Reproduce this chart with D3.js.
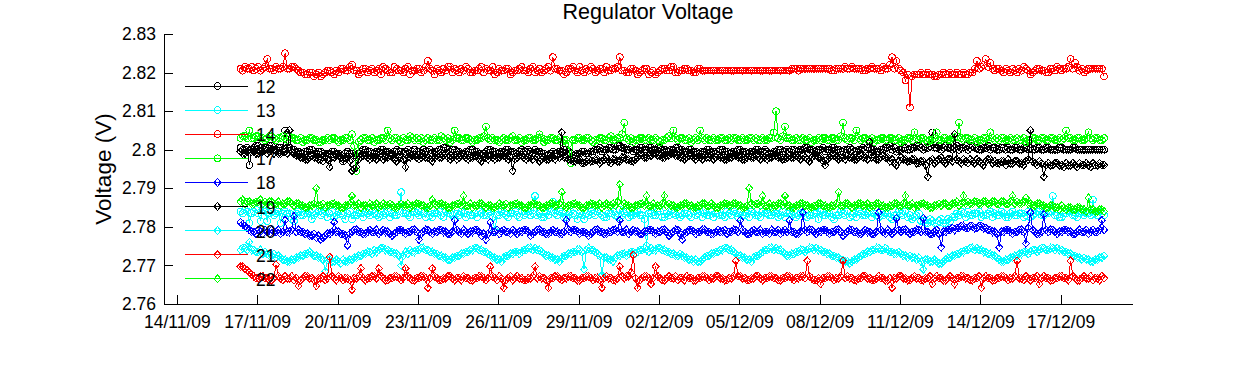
<!DOCTYPE html>
<html><head><meta charset="utf-8">
<script src="https://cdn.jsdelivr.net/npm/d3@7"></script>
<style>body{margin:0;background:#fff;overflow:hidden}text{font-family:"Liberation Sans",Arial,sans-serif;fill:#000}</style>
</head><body>
<svg id="c" width="1250" height="365"></svg>
<script>
// ---------- data ----------
const titleText = "Regulator Voltage";
const yLabelText = "Voltage (V)";
const seriesNames = ["12","13","14","17","18","19","20","21","22"];
const yTickValues = [2.76,2.77,2.78,2.79,2.8,2.81,2.82,2.83];
const yTickLabels = ["2.76","2.77","2.78","2.79","2.8","2.81","2.82","2.83"];
const xTickLabels = ["14/11/09","17/11/09","20/11/09","23/11/09","26/11/09","29/11/09","02/12/09","05/12/09","08/12/09","11/12/09","14/12/09","17/12/09"];
const sampleStart = "2009-11-16T09:00:00";   // first sample
const sampleHours = 2;                        // hours between samples
const quantumV = 0.0005;                      // value step of the offsets below (V)
// base voltage of each series, and offsets (in quantum steps)
const base12 = 2.7995, base13 = 2.7830, base14 = 2.8205, base17 = 2.8025, base18 = 2.7787,
      base19 = 2.7985, base20 = 2.7725, base21 = 2.7667, base22 = 2.7855;
const off12 = [
2,1,1,2,-7,1,2,3,3,2,1,2,2,3,3,1,1,2,2,1,
11,2,2,1,1,0,0,-1,-1,0,0,1,1,-1,-1,0,0,-1,-2,-1,
-1,0,0,-1,-1,-2,-5,-1,0,-1,-1,-2,-3,-1,0,1,1,0,0,-1,
-1,0,0,1,1,0,0,-1,-1,0,1,0,0,-1,0,1,-1,0,1,0,
0,-1,1,0,0,1,-1,0,0,1,1,2,2,1,0,1,1,0,0,-1,
-1,0,0,1,1,0,0,-1,-2,-1,0,1,1,0,0,-1,-1,0,0,1,
1,0,0,-1,-1,0,1,0,0,1,0,-1,1,0,0,-1,-1,-2,-2,-1,
0,-1,-1,0,0,1,1,0,-1,-2,-2,-1,-1,0,0,-1,-1,0,0,1,
1,2,0,1,1,2,2,1,1,3,3,2,2,1,1,2,0,1,1,2,
2,1,1,2,2,1,1,2,2,1,1,0,0,1,1,2,2,1,1,0,
0,1,1,0,0,-1,-1,0,0,1,1,0,0,-1,0,1,1,0,0,-1,
-1,0,0,1,1,0,0,-1,-1,0,0,1,1,0,0,1,0,-1,-1,0,
0,1,1,0,0,1,0,1,1,0,0,1,1,2,2,1,1,0,0,1,
1,2,0,1,1,2,2,1,1,0,0,1,1,2,1,0,0,1,1,2,
1,2,2,1,1,0,0,1,1,2,2,3,1,2,0,1,1,2,2,1,
1,2,2,3,3,2,1,2,2,3,10,2,2,3,1,2,3,2,2,1,
2,3,1,2,2,3,1,2,3,2,2,1,1,2,2,3,1,2,2,1,
1,2,2,1,2,1,1,2,2,1,1,2,2,1,2,1,1,2,2,1,
1,2,2,1,1,1,1,2,2,1,1,1,1,2,2,1,1,1,1,1,
1,1,1,1,1,1,1,1];
const off13 = [
2,1,3,2,-4,1,2,3,1,-3,3,2,-3,1,2,0,1,2,-4,1,
2,1,1,-2,-3,1,2,0,0,1,1,2,-2,0,1,2,0,1,2,-1,
1,2,-1,0,2,1,0,-2,1,2,-2,0,0,1,1,-1,2,1,0,2,
1,0,-1,2,0,1,2,-1,1,0,0,2,12,1,1,0,-1,2,2,1,
0,2,1,-1,2,0,-1,1,1,2,0,-1,2,1,1,0,-2,1,0,2,
1,-1,2,0,0,1,-1,2,1,0,0,1,2,-1,-8,0,0,2,1,0,
-1,1,1,2,0,-1,2,0,1,2,0,1,10,0,1,-1,-1,1,0,2,
7,1,0,2,1,-1,-1,0,2,1,0,-2,1,0,-2,1,0,2,1,0,
2,1,0,-1,-1,1,1,2,0,-1,3,0,1,2,-1,0,0,1,2,0,
0,-2,-16,1,1,0,0,2,2,-1,-1,1,0,2,1,0,2,-1,0,1,
1,0,-1,2,0,1,2,-1,1,0,0,2,-1,1,1,0,0,-1,2,1,
0,2,1,-1,2,0,0,1,-1,2,1,0,0,-1,2,1,1,0,0,2,
1,-1,0,2,-1,1,1,0,2,-1,0,1,1,2,-1,0,0,1,1,-2,
2,0,0,1,1,-1,-2,0,0,2,1,0,2,-1,0,1,-1,2,1,0,
0,1,2,-1,1,0,-1,2,0,1,1,-1,-2,0,0,2,1,0,2,-1,
0,-2,-1,0,1,-3,-3,-4,-4,-2,-3,-4,-4,-3,-2,-4,-4,-2,-3,-1,
-1,1,0,2,1,-1,2,0,0,1,1,2,-1,0,0,1,2,-1,1,0,
0,2,1,-1,-1,1,2,0,0,1,1,-1,0,2,-1,0,1,2,2,0,
0,1,1,2,10,0,0,-1,-1,1,1,2,2,0,0,-1,1,2,0,1,
1,0,8,1,0,2,1,0];
const off14 = [
1,0,2,1,1,2,0,1,2,0,1,2,6,1,1,0,2,1,1,2,
9,1,1,2,2,1,0,-1,-1,-2,-2,-1,-1,-3,-2,-1,-3,-2,-1,0,
0,-1,-2,0,-1,1,1,0,0,2,3,0,0,-2,-1,1,1,-1,0,1,
-1,0,1,-2,2,1,0,-1,-1,2,1,0,0,-1,1,2,-2,0,0,1,
1,-1,0,2,5,1,0,-2,1,0,-1,1,0,2,2,-1,1,0,-1,1,
0,2,1,-1,-1,0,0,1,2,-1,1,0,0,2,-2,-1,1,0,0,1,
1,-2,-1,0,0,1,2,0,0,-1,1,2,-1,0,1,-1,0,1,2,0,
7,1,1,0,0,-2,-1,1,1,2,0,-1,2,0,-1,1,0,2,1,-1,
0,1,1,-1,2,0,0,1,1,2,7,0,0,-1,-1,1,1,0,-2,-1,
0,1,1,-2,-1,0,-2,-1,0,1,1,0,0,2,2,-1,-1,0,0,1,
1,0,0,-1,-1,1,1,0,0,0,0,0,0,0,0,0,0,0,0,0,
0,0,0,0,0,0,0,0,0,0,0,0,0,0,0,0,0,0,0,0,
0,0,0,0,0,0,0,1,1,1,0,1,1,1,1,1,1,1,1,1,
1,1,1,1,1,0,0,1,1,1,1,2,1,1,2,1,1,1,1,0,
0,1,1,2,1,1,1,0,2,1,1,3,7,1,5,1,0,-1,-5,-2,
-19,-3,-2,-2,-2,-1,-2,-2,-1,-2,-2,-3,-3,-2,-2,-1,-2,-2,-1,-2,
-2,-1,-2,-2,-1,-2,-2,-1,-1,1,5,1,2,3,6,2,4,1,0,1,
1,0,-1,1,0,-1,1,0,-1,1,0,2,1,0,-2,-1,0,1,1,0,
0,-1,-1,1,1,0,2,1,0,1,1,2,6,1,4,2,0,1,-1,0,
1,1,1,1,1,1,1,-3];
const off17 = [
1,2,2,1,5,1,1,2,2,1,1,0,1,2,2,1,0,1,1,2,
1,0,2,1,1,0,0,1,-1,0,0,1,1,0,0,-1,-1,0,0,1,
0,1,1,0,-1,0,0,1,1,0,3,-3,-16,-1,0,1,1,0,0,1,
-1,0,0,1,1,0,5,1,0,1,1,0,-1,1,0,0,2,1,0,1,
0,1,-1,0,1,0,0,1,0,0,2,1,0,1,-1,0,5,1,1,0,
0,1,1,0,-1,0,0,1,1,2,7,1,0,1,0,0,-1,0,1,0,
0,1,2,0,0,1,-1,0,0,1,1,0,0,1,3,1,-1,0,0,1,
1,0,0,1,-1,0,0,-2,-12,0,0,1,1,0,0,1,1,0,-1,0,
0,1,1,0,0,1,2,0,0,1,1,3,9,1,0,1,-1,0,0,1,
1,0,0,1,0,0,1,0,-1,0,0,1,2,1,5,1,0,1,1,0,
0,1,-1,0,1,0,5,1,0,1,0,0,1,0,0,1,1,0,0,1,
0,1,1,0,0,1,0,0,1,1,0,1,0,0,1,0,0,1,1,4,
15,1,0,2,7,1,1,0,0,1,0,0,1,0,0,1,-1,0,0,1,
0,1,1,0,0,1,1,0,0,2,9,1,0,1,1,0,5,1,0,1,
1,0,0,1,-1,0,0,1,1,0,0,1,1,0,0,1,-1,0,0,1,
1,0,4,1,0,1,1,0,-1,0,0,1,4,0,0,1,1,0,0,1,
1,2,9,1,0,1,1,0,0,1,-1,0,0,1,1,0,4,1,0,1,
0,1,1,0,0,1,0,0,1,0,0,1,-1,0,0,1,1,0,0,1,
1,0,0,1,1,0,0,1,0,1,5,1,1,0,0,1,1,0,0,1,
4,1,0,1,1,0,0,1];
const off18 = [
5,4,3,2,1,0,0,-1,1,0,-1,1,0,-1,1,0,0,1,-1,0,
6,0,0,1,8,0,1,0,0,-1,-1,-2,-2,-1,-3,-2,-4,-3,-2,-1,
-1,0,5,0,0,-1,-1,-2,-7,-1,0,1,1,0,0,-1,-1,0,1,0,
0,1,-1,0,1,0,0,-1,-2,-1,0,1,1,0,-1,0,0,1,1,0,
-4,-1,0,1,1,0,-1,0,0,1,1,0,0,-1,-1,0,6,1,0,-1,
1,0,-1,0,0,1,1,0,-2,-1,-4,-1,5,0,0,1,-1,0,1,0,
0,-1,1,0,-1,0,0,1,1,0,-2,-1,0,1,1,0,0,-1,-1,0,
1,0,0,-1,-1,0,6,1,0,1,1,0,-1,0,0,-1,-2,-1,0,1,
1,0,0,-1,-1,0,0,1,1,0,6,0,0,1,-1,0,1,0,0,-1,
-1,0,0,1,1,0,-1,0,0,1,1,0,-2,-1,0,1,1,-1,-4,-1,
0,1,1,0,-1,0,0,1,1,0,0,-1,-1,0,1,0,0,1,-1,0,
0,1,1,0,6,1,0,-1,-1,0,1,0,0,1,-1,0,0,-1,1,0,
0,1,-1,0,1,0,6,0,0,-1,-1,0,10,1,0,1,1,0,-1,0,
0,1,1,0,-1,0,0,1,1,0,-2,-1,0,1,1,0,0,-1,-1,0,
1,0,0,-1,-1,0,10,1,0,-1,1,0,-1,0,7,1,0,1,1,0,
-1,0,0,1,1,0,7,0,0,-1,-1,0,1,-1,-8,0,0,1,1,2,
1,2,2,3,3,2,2,3,3,2,2,3,3,2,2,1,1,0,0,-1,
-8,0,0,1,1,0,-1,0,0,1,1,0,-6,2,10,1,0,-1,-1,0,
9,1,0,1,1,0,-1,0,0,1,1,0,0,-1,-1,0,1,0,0,1,
-1,0,1,0,0,1,6,1];
const off19 = [
2,1,1,2,3,2,2,1,1,2,2,3,1,2,3,1,2,1,1,2,
2,1,13,2,1,0,0,-1,-1,-2,-2,-1,0,-1,-1,-2,-2,-3,-1,-2,
-6,-1,-1,0,0,-1,-2,-1,-1,-3,-8,-7,-6,-2,-1,0,0,-1,-2,-1,
-1,-2,0,-1,-2,-1,-1,0,0,-2,-3,-1,-1,-2,-6,-1,-1,0,0,-1,
-2,-1,0,-1,-1,-2,-3,-1,0,-1,-1,0,1,-1,-2,-1,0,-2,-1,0,
0,-1,-2,-1,-1,0,0,-2,-3,-1,-1,-2,0,-1,-2,-1,-1,0,0,-1,
-2,-1,-8,-2,-1,0,0,-1,-2,-1,-1,-2,0,-1,-3,-2,-1,-2,-2,-1,
-1,-2,0,-1,12,-1,-1,-2,-2,-3,-3,-2,-2,-4,-4,-3,-2,-3,-3,-2,
-2,-4,-3,-2,-1,-3,-4,-2,-2,-3,-3,-1,-1,-2,-2,-3,-3,-2,-1,0,
0,-1,-1,0,0,1,1,0,0,-1,-1,0,0,1,1,0,0,-1,-1,-2,
-1,0,0,-1,-2,-1,-1,-2,0,-1,-1,0,-2,-1,0,-1,-1,-2,-2,-1,
-1,0,0,-1,-1,-2,-2,-1,0,-1,-1,0,-1,-2,0,-1,-2,-1,-1,0,
0,-1,-1,-2,-2,-1,0,-1,-1,0,-1,-2,0,-1,-2,-3,-1,0,0,-1,
-1,-3,-5,-2,-1,0,0,-1,-2,-1,-1,-2,0,-1,-1,-2,-2,-1,0,-1,
-1,-2,7,-1,-1,-2,-2,-1,0,-1,-1,-3,-2,-4,-5,-3,-1,-2,-2,-3,
-3,-2,-2,-4,-4,-3,-3,-5,-11,-3,-2,-4,-3,-2,-1,-3,-4,-2,-2,-3,
11,-2,-3,-4,-2,-3,-4,-2,-3,-4,-2,-3,-4,-5,-3,-2,-2,-4,-3,-4,
-4,-3,-3,-5,-2,-4,-4,-3,-3,-4,-4,-5,-3,-2,13,-3,-4,-5,-3,-4,
-11,-5,-4,-5,-5,-4,-4,-5,-5,-6,-4,-5,-5,-4,-5,-6,-4,-5,-5,-4,
-5,-6,-4,-5,-5,-4,-5,-5];
const off20 = [
3,4,4,3,7,3,3,2,2,3,1,2,1,0,0,1,-1,0,-1,-2,
-2,-3,-3,-2,-2,-1,-1,0,0,1,1,2,1,0,0,-1,-1,-2,-8,-2,
-2,-3,-3,-2,-3,-4,-2,-3,-3,-2,-2,-1,-1,0,0,1,1,2,2,1,
3,2,3,4,4,3,3,2,2,1,1,0,-5,0,2,1,3,2,2,3,
3,4,4,3,3,2,2,1,1,0,0,-1,-1,-2,-2,-1,-1,0,0,1,
1,2,2,3,3,4,4,3,3,2,2,1,0,-1,-1,-2,-2,-3,-1,0,
0,1,1,2,2,1,2,3,3,4,4,3,4,3,3,2,1,0,0,-1,
-1,-2,-2,-3,-1,0,0,1,1,2,2,3,3,2,-7,3,4,3,3,2,
1,0,-10,-1,-1,-2,-2,-3,-1,0,0,1,1,0,1,2,2,1,2,3,
3,4,3,2,4,3,3,4,4,3,3,2,2,1,1,0,0,1,0,-1,
-1,-2,-2,-3,-2,-3,-3,-2,-1,0,0,1,1,2,2,3,3,4,4,3,
3,2,1,0,0,-1,-1,-2,-2,-3,-1,0,0,1,2,3,3,4,4,3,
4,3,3,2,1,0,0,1,1,2,2,3,3,2,3,4,4,3,4,3,
3,2,2,1,1,0,0,-1,-1,-2,-2,-3,-3,-4,-3,-2,-2,-1,0,1,
1,2,2,3,3,4,4,3,3,4,3,2,2,1,1,2,1,0,0,-1,
0,-1,-1,-2,-1,-3,-7,-2,-2,-3,-3,-2,-3,-4,-4,-3,-2,-1,-1,0,
0,1,1,2,2,3,3,4,4,3,4,3,3,2,2,1,1,0,0,-1,
-2,-3,-3,-2,-2,-1,-1,0,0,1,1,2,2,1,2,3,3,2,3,4,
4,3,3,4,4,3,4,3,3,2,2,1,1,0,0,-1,-1,-2,-1,-2,
-2,-3,-3,-2,-2,-1,-1,0];
const off21 = [
6,6,5,4,3,2,1,0,0,1,1,0,0,-1,-1,0,7,1,0,-1,
1,0,0,1,-1,0,-4,-1,0,1,1,0,0,-1,-4,0,0,1,-1,0,
11,1,0,-1,1,0,-1,0,0,-1,-6,0,0,1,5,0,-1,0,0,1,
1,0,5,1,0,-1,-1,0,0,1,1,0,-1,0,5,1,0,-1,-1,0,
0,1,1,0,-5,0,5,1,0,-1,-1,0,0,1,1,0,-1,0,0,-1,
1,0,0,-1,-1,0,0,1,1,0,-1,0,6,1,0,-1,1,0,-5,-1,
0,1,-1,0,1,0,0,-1,-1,0,0,1,6,0,1,0,0,-1,-5,0,
0,1,1,0,-1,0,0,1,1,0,0,-1,-1,0,0,1,1,0,-1,0,
0,-1,-5,0,1,0,0,-1,-1,0,6,1,0,1,1,3,12,0,-5,-1,
0,1,1,0,-3,0,6,1,0,-1,-1,0,1,0,0,1,-1,0,0,-1,
1,0,0,-1,-1,0,0,1,1,0,-1,0,0,1,1,0,0,-1,-1,0,
0,1,9,1,1,0,0,-1,-1,0,0,1,1,0,-1,0,0,1,1,0,
0,-1,-1,0,0,1,1,0,-1,0,0,1,1,0,9,1,0,-1,-1,0,
-3,0,0,1,1,0,-1,0,0,1,9,0,1,0,0,-1,-1,0,0,1,
1,0,0,-1,-1,0,1,0,0,-1,-1,0,-5,0,0,1,1,0,0,-1,
-1,0,1,0,0,-1,-1,0,0,1,-3,0,1,0,0,-1,-1,0,1,0,
-3,0,0,1,1,0,0,-1,-1,0,0,1,-5,0,1,0,0,-1,-1,0,
0,1,1,0,-1,0,0,1,9,0,0,-1,1,0,-1,0,0,1,-3,0,
1,0,0,-1,-1,0,0,1,1,0,0,-1,9,1,0,-1,-1,0,1,0,
0,1,-1,0,0,-1,1,0];
const off22 = [
2,3,1,2,2,1,1,2,2,3,1,2,1,2,2,1,1,2,0,1,
1,2,2,1,0,1,1,0,0,-1,-1,0,0,1,9,0,0,1,-1,0,
0,1,1,0,0,-1,-1,0,0,1,5,0,0,1,-1,0,0,-1,1,0,
0,1,-1,0,1,0,0,1,0,-1,-1,0,1,0,0,1,-1,0,0,1,
1,0,0,-1,-1,0,3,1,0,1,1,0,0,-1,-1,0,0,1,1,0,
5,0,0,1,-1,0,0,1,1,0,-1,0,0,-1,-1,0,1,0,0,1,
-1,0,0,1,1,0,0,-1,-1,0,0,1,1,0,0,-1,-1,0,0,1,
1,0,0,1,7,0,-1,0,0,1,1,0,0,-1,-1,0,0,1,1,0,
0,1,-1,0,1,0,0,1,0,2,11,0,1,0,0,-1,-1,0,0,1,
1,0,5,0,0,1,-1,0,0,1,5,0,1,0,0,-1,-1,0,0,1,
1,0,0,-1,-1,0,0,1,1,0,0,1,0,-1,-1,0,0,1,1,0,
0,1,1,0,0,-1,-1,0,9,1,0,1,1,0,5,0,0,1,-1,0,
0,1,1,0,5,0,0,-1,-1,0,0,1,1,0,0,-1,-1,0,0,1,
1,0,0,-1,-1,0,0,1,7,0,0,1,1,0,-1,0,0,1,1,0,
0,1,-1,0,0,1,1,0,0,-1,-1,0,0,1,1,0,0,1,5,0,
0,1,-1,0,0,1,1,0,0,-1,-1,0,0,1,0,1,1,0,0,1,
1,2,0,1,5,1,2,1,1,2,2,1,1,2,2,1,1,2,2,1,
1,2,2,1,1,2,5,1,2,1,1,2,4,1,1,0,0,1,1,0,
0,-1,-1,0,0,-1,-1,-2,0,-1,-2,-1,-1,-2,-2,-1,-1,-2,-2,-3,
4,-2,-2,-3,-3,-2,-2,-3];

// ---------- styles ----------
const styles = {
  "12":{color:"#000000",marker:"o"}, "13":{color:"#00ffff",marker:"o"}, "14":{color:"#ff0000",marker:"o"},
  "17":{color:"#00ff00",marker:"o"}, "18":{color:"#0000ff",marker:"d"}, "19":{color:"#000000",marker:"d"},
  "20":{color:"#00ffff",marker:"d"}, "21":{color:"#ff0000",marker:"d"}, "22":{color:"#00ff00",marker:"d"}
};
const bases = [base12,base13,base14,base17,base18,base19,base20,base21,base22];
const offs = [off12,off13,off14,off17,off18,off19,off20,off21,off22];

const t0 = new Date(sampleStart);
const series = seriesNames.map((name,k)=>({
  name,
  points: offs[k].map((o,i)=>({t:new Date(t0.getTime()+i*sampleHours*3600e3), v: bases[k]+o*quantumV}))
}));

// ---------- layout ----------
const svg = d3.select("#c");
const L = 164, R = 1132, T = 34, B = 304;
const parseTick = d3.timeParse("%d/%m/%y");
const x = d3.scaleTime().domain([new Date(2009,10,13,12,30), new Date(2009,11,19,16,0)]).range([L,R]);
const y = d3.scaleLinear().domain([2.76,2.83]).range([B,T]);
const FS = 17.5;

// axes
const xAxis = d3.axisBottom(x).tickValues(xTickLabels.map(parseTick))
  .tickFormat((d,i)=>xTickLabels[i]).tickSizeInner(-9).tickSizeOuter(0).tickPadding(12);
const yAxis = d3.axisLeft(y).tickValues(yTickValues)
  .tickFormat((d,i)=>yTickLabels[i]).tickSizeInner(-9).tickSizeOuter(0).tickPadding(8);
const gx = svg.append("g").attr("transform",`translate(0,${B})`).call(xAxis);
const gy = svg.append("g").attr("transform",`translate(${L},0)`).call(yAxis);
[gx,gy].forEach(g=>{
  g.select(".domain").attr("stroke","#000").attr("shape-rendering","crispEdges");
  g.selectAll(".tick line").attr("stroke","#000").attr("shape-rendering","crispEdges");
  g.selectAll("text").attr("font-size",FS).attr("font-family","Liberation Sans, Arial, sans-serif").attr("fill","#000");
});

// title & y label
svg.append("text").attr("x",(L+R)/2).attr("y",19).attr("text-anchor","middle")
  .attr("font-size",21.5).text(titleText);
svg.append("text").attr("transform",`translate(103,${(T+B)/2}) rotate(-90)`)
  .attr("text-anchor","middle").attr("dominant-baseline","central")
  .attr("font-size",22.5).text(yLabelText);

// markers
const circlePath = d3.symbol().type(d3.symbolCircle).size(Math.PI*3.4*3.4)();
const diamondPath = "M0,-3.9L3.4,0L0,3.9L-3.4,0Z";
function drawMarker(g, sx, sy, st){
  const p = st.marker === "o" ? circlePath : diamondPath;
  g.append("path").attr("d",p).attr("transform",`translate(${sx},${sy})`)
   .attr("fill","none").attr("stroke",st.color).attr("stroke-width",1)
   .attr("shape-rendering","crispEdges");
}

// data
const line = d3.line().x(d=>x(d.t)).y(d=>y(d.v));
series.forEach(s=>{
  const st = styles[s.name];
  const g = svg.append("g").attr("shape-rendering","crispEdges");
  g.append("path").datum(s.points).attr("d",line).attr("fill","none").attr("stroke",st.color).attr("stroke-width",1);
  g.selectAll("path.m").data(s.points).enter().append("path").attr("class","m")
    .attr("d", st.marker === "o" ? circlePath : diamondPath)
    .attr("transform",d=>`translate(${x(d.t)},${y(d.v)})`)
    .attr("fill","none").attr("stroke",st.color).attr("stroke-width",1);
});

// legend
const lg = svg.append("g");
seriesNames.forEach((name,i)=>{
  const st = styles[name];
  const ly = 86 + i*24.1;
  lg.append("line").attr("x1",185).attr("x2",248).attr("y1",ly).attr("y2",ly)
    .attr("stroke",st.color).attr("stroke-width",1).attr("shape-rendering","crispEdges");
  drawMarker(lg, 217.5, ly, st);
  lg.append("text").attr("x",256).attr("y",ly+1).attr("dominant-baseline","central")
    .attr("font-size",FS).text(name);
});
</script>
</body></html>
